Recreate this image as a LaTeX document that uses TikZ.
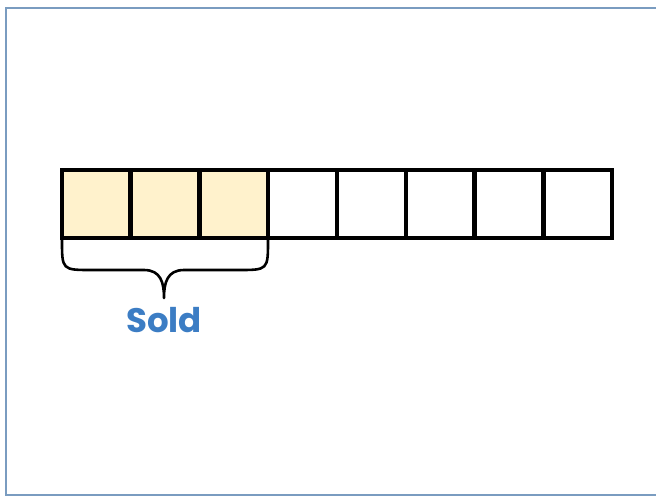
\documentclass[tikz,border=0pt]{standalone}
\usepackage{fontspec}
\setmainfont{Poppins}
\definecolor{framecol}{HTML}{7A9CC0}
\definecolor{soldfill}{HTML}{FFF2CC}
\definecolor{soldtext}{HTML}{3C7DC4}
\begin{document}
\begin{tikzpicture}[x=1pt,y=-1pt,
  cell/.style={draw=black,line width=4.5pt,minimum width=68.8pt,minimum height=68pt,inner sep=0pt,outer sep=0pt,anchor=north west},
  soldcell/.style={cell,fill=soldfill},
  bracecurve/.style={draw=black,line width=2.6pt,line cap=round,line join=round},
  lbl/.style={text=soldtext,font=\bfseries\fontsize{34}{36}\selectfont,inner sep=0pt}]
\useasboundingbox (0,0) rectangle (656,496);
\draw[framecol,line width=2pt] (5.5,8) rectangle (662,494.5);
\foreach \i in {0,1,2} {
  \node[soldcell] (c\i) at ({61.8+68.8*\i},170) {};
}
\foreach \i in {3,...,7} {
  \node[cell] (c\i) at ({61.8+68.8*\i},170) {};
}
\coordinate (bl) at (62,240);
\coordinate (br) at (268,240);
\coordinate (tip) at (164,298);
\draw[bracecurve] (bl) .. controls (62,270) .. (92,270) -- (144,270)
  .. controls (161,270) and (164,283) .. (tip)
  .. controls (164,283) and (167,270) .. (184,270) -- (238,270)
  .. controls (268,270) .. (br);
\node[lbl] (sold) at (164,320) {Sold};
\end{tikzpicture}
\end{document}
